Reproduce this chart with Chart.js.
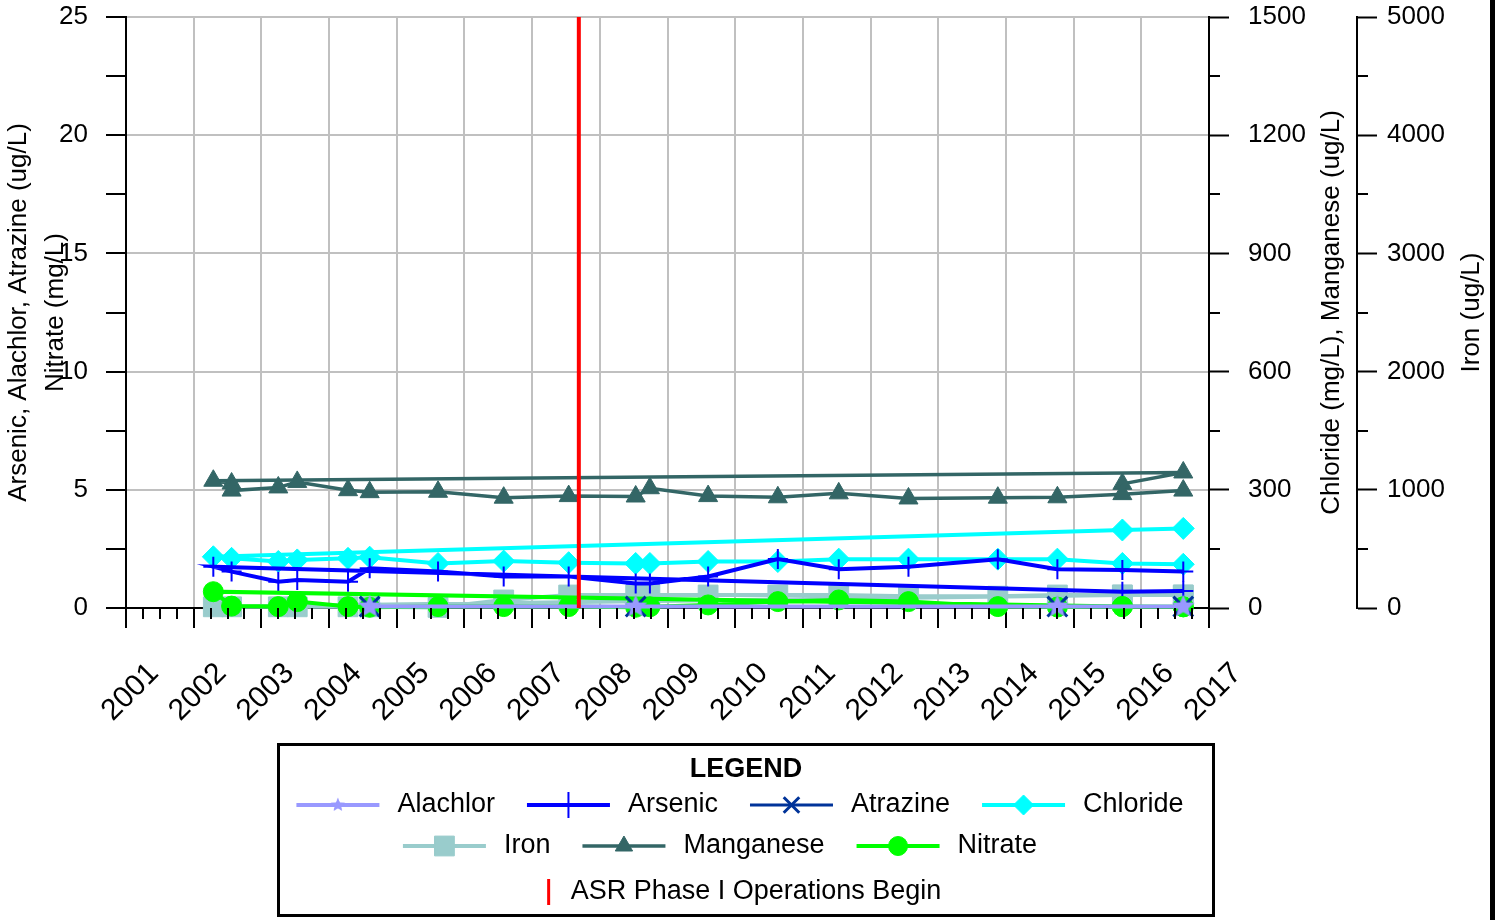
<!DOCTYPE html>
<html>
<head>
<meta charset="utf-8">
<title>Water quality</title>
<script src="https://cdn.jsdelivr.net/npm/chart.js@4.4.1/dist/chart.umd.min.js"></script>
<style>
  html, body { margin: 0; padding: 0; background: #fff; }
  #wrap { position: relative; width: 1499px; height: 920px; }
</style>
</head>
<body>
<div id="wrap"><canvas id="chart" width="1499" height="920"></canvas></div>
<script>
// Sample dates (decimal years)
const sampleDates = [2002.29, 2002.56, 2003.25, 2003.53, 2004.28, 2004.60, 2005.61, 2006.58, 2007.54,
  2008.53, 2008.74, 2009.60, 2010.63, 2011.53, 2012.56, 2013.88, 2014.76, 2015.72, 2016.62];
// resampled rows that sit at the front of each record (they give the long return line)
const extraDates = [2016.62, 2015.72];

const arsenicValues = [1.75, 1.54, 1.11, 1.18, 1.11, 1.68, 1.54, 1.33, 1.33, 1.04, 1.04, 1.33, 2.07, 1.64, 1.75, 2.06, 1.64, 1.61, 1.54];
const arsenicExtra = [0.72, 0.69];

const chlorideValues = [130, 126, 118, 122, 126, 129, 113, 119, 115, 113, 113, 118, 118, 124, 124, 124, 124, 113, 111];
const chlorideExtra = [202, 198];

const ironValues = [10, 10, 10, 10, 10, 10, 5, 68, 110, 110, 110, 110, 110, 110, 100, 100, 110, 110, 110];
const ironExtra = [110, 110];

const nitrateValues = [0.69, 0.08, 0.06, 0.27, 0.06, 0.03, 0.06, 0.06, 0.06, 0.03, 0.05, 0.13, 0.27, 0.34, 0.27, 0.06, 0.04, 0.06, 0.05];
const nitrateExtra = [0.05, 0.06];

const manganeseDates = [2015.72, 2016.62, 2002.29, 2002.56, 2002.56, 2003.25, 2003.53, 2004.28, 2004.60, 2005.61, 2006.58,
  2007.54, 2008.53, 2008.74, 2009.60, 2010.63, 2011.53, 2012.56, 2013.88, 2014.76, 2015.72, 2016.62];
const manganeseValues = [315, 344, 323, 316, 298, 306, 320, 299, 294, 295, 280, 284, 283, 304, 284, 281, 291, 278, 280, 281, 289, 298];

const pesticideDates = [2004.60, 2008.53, 2014.76, 2016.62];
const alachlorValues = [0.06, 0.06, 0.06, 0.06];
const atrazineValues = [0.06, 0.06, 0.06, 0.06];

const asrDates = [2007.69, 2007.69];
const asrRange = [0, 25];

const yearTicks = [2001, 2017];

const FONT = "'Liberation Sans', Arial, Helvetica, sans-serif";
const GRID = '#c0c0c0';
Chart.defaults.font.family = FONT;
Chart.defaults.color = '#000';

function pts(xs, ys) {
    return xs.map((x, i) => ({ x: x, y: ys[i] }));
}

// filled five point star for Alachlor
function makeStar(color, r) {
    const c = document.createElement('canvas');
    c.width = c.height = 2 * r + 2;
    const g = c.getContext('2d');
    g.fillStyle = color;
    g.beginPath();
    for (let i = 0; i < 10; i++) {
        const rad = i % 2 ? r * 0.45 : r;
        const a = -Math.PI / 2 + i * Math.PI / 5;
        g.lineTo(r + 1 + rad * Math.cos(a), r + 1 + rad * Math.sin(a));
    }
    g.closePath();
    g.fill();
    return c;
}

function series(label, data, color, style, radius, axis, order, lineW, ptBorder) {
    return {
        label: label, data: data, yAxisID: axis, order: order,
        borderColor: color, backgroundColor: color, borderWidth: lineW,
        pointStyle: style, pointRadius: radius,
        pointBackgroundColor: color, pointBorderColor: color, pointBorderWidth: ptBorder,
        fill: false, tension: 0, clip: false
    };
}

const datasets = [
    { label: 'ASR Phase I Operations Begin', data: pts(asrDates, asrRange), yAxisID: 'y', order: 0,
      borderColor: '#ff0000', backgroundColor: '#ff0000', borderWidth: 4, pointRadius: 0, fill: false },
    series('Alachlor', pts(pesticideDates, alachlorValues), '#9999ff', makeStar('#9999ff', 12), 12, 'y', 1, 4, 1),
    series('Atrazine', pts(pesticideDates, atrazineValues), '#003399', 'crossRot', 14, 'y', 2, 3, 3),
    series('Nitrate', pts(extraDates.concat(sampleDates), nitrateExtra.concat(nitrateValues)), '#00ff00', 'circle', 10, 'y', 3, 4, 1),
    series('Arsenic', pts(extraDates.concat(sampleDates), arsenicExtra.concat(arsenicValues)), '#0000ff', 'cross', 10, 'y', 4, 4, 2),
    series('Chloride', pts(extraDates.concat(sampleDates), chlorideExtra.concat(chlorideValues)), '#00ffff', 'rectRot', 11, 'y1', 5, 4, 1),
    series('Iron', pts(extraDates.concat(sampleDates), ironExtra.concat(ironValues)), '#99cccc', 'rect', 14, 'y2', 6, 4, 1),
    series('Manganese', pts(manganeseDates, manganeseValues), '#336666', 'triangle', 11, 'y1', 7, 3.5, 1)
];

const legendRows = [['Alachlor', 'Arsenic', 'Atrazine', 'Chloride'], ['Iron', 'Manganese', 'Nitrate'], ['ASR Phase I Operations Begin']];
const legendMarkers = { Alachlor: 8, Arsenic: 13, Atrazine: 11, Chloride: 10, Iron: 14, Manganese: 10, Nitrate: 9.5 };

// minor ticks (shorter, no grid line)
const minorSteps = { x: 0.25, y1: 150, y2: 500 };

function marker(ctx, ds, r, x, y) {
    ctx.fillStyle = ds.pointBackgroundColor;
    ctx.strokeStyle = ds.pointBorderColor;
    ctx.lineWidth = ds.pointBorderWidth;
    const style = ds.pointStyle;
    if (typeof style !== 'string') {
        ctx.drawImage(style, x - r, y - r, 2 * r, 2 * r);
    } else if (Chart.helpers && Chart.helpers.drawPoint) {
        Chart.helpers.drawPoint(ctx, { pointStyle: style, radius: r, rotation: 0, borderWidth: ds.pointBorderWidth }, x, y);
    } else {
        ctx.beginPath();
        ctx.arc(x, y, r, 0, Math.PI * 2);
        ctx.fill();
    }
}

// keep the plot top where the reference has it (17px)
function fixVertical(width) {
    return sc => {
        sc.width = width;
        sc.paddingTop = 17;
        sc.paddingBottom = 0;
    };
}

const decorPlugin = {
    id: 'decor',
    afterDraw(chart) {
        const ctx = chart.ctx;
        const s = chart.scales;
        ctx.save();
        ctx.strokeStyle = '#000';
        ctx.lineWidth = 2;
        ctx.beginPath();
        for (let v = s.x.min + minorSteps.x; v < s.x.max; v += minorSteps.x) {
            if (Math.abs(v - Math.round(v)) < 1e-6) continue;
            const px = Math.round(s.x.getPixelForValue(v));
            ctx.moveTo(px, s.x.top);
            ctx.lineTo(px, s.x.top + 11);
        }
        ['y1', 'y2'].forEach(id => {
            const sc = s[id];
            const st = minorSteps[id];
            for (let v = sc.min + st; v < sc.max; v += 2 * st) {
                const py = Math.round(sc.getPixelForValue(v));
                ctx.moveTo(sc.left, py);
                ctx.lineTo(sc.left + 11, py);
            }
        });
        ctx.stroke();

        // right axis titles read bottom to top
        const midY = (chart.chartArea.top + chart.chartArea.bottom) / 2;
        ctx.fillStyle = '#000';
        ctx.font = '26px ' + FONT;
        ctx.textAlign = 'center';
        ctx.textBaseline = 'middle';
        [[s.y1.right - 25, 'Chloride (mg/L), Manganese (ug/L)'], [s.y2.left + 115, 'Iron (ug/L)']].forEach(t => {
            ctx.save();
            ctx.translate(t[0], midY);
            ctx.rotate(-Math.PI / 2);
            ctx.fillText(t[1], 0, 0);
            ctx.restore();
        });

        // frame edge on the right
        ctx.fillRect(1490, 0, 5, chart.height);

        // legend box
        const box = { left: 278.5, top: 744.5, width: 935, height: 171 };
        ctx.lineWidth = 3;
        ctx.strokeRect(box.left, box.top, box.width, box.height);
        ctx.font = 'bold 27px ' + FONT;
        ctx.fillText('LEGEND', box.left + box.width / 2, 770);

        ctx.font = '27px ' + FONT;
        ctx.textAlign = 'left';
        const rowY = [805, 846, 892];
        const rowCenter = [740, 720, 745];
        legendRows.forEach((row, ri) => {
            const items = row.map(label => {
                const ds = chart.data.datasets.find(d => d.label === label);
                const isLine = !ds.pointRadius;
                const sampleW = isLine ? 0 : 83;
                const gap = isLine ? 22 : 18;
                return { ds, label, sampleW, gap, w: sampleW + gap + ctx.measureText(label).width };
            });
            const itemGap = 32;
            const total = items.reduce((a, it) => a + it.w, 0) + itemGap * (items.length - 1);
            let x = rowCenter[ri] - total / 2;
            const y = rowY[ri];
            items.forEach(it => {
                const ds = it.ds;
                ctx.strokeStyle = ds.borderColor;
                if (it.sampleW) {
                    ctx.lineWidth = ds.borderWidth;
                    ctx.beginPath();
                    ctx.moveTo(x, y);
                    ctx.lineTo(x + it.sampleW, y);
                    ctx.stroke();
                    marker(ctx, ds, legendMarkers[it.label], x + it.sampleW / 2, y);
                } else {
                    ctx.lineWidth = 3;
                    ctx.beginPath();
                    ctx.moveTo(x, y - 13);
                    ctx.lineTo(x, y + 13);
                    ctx.stroke();
                }
                ctx.fillStyle = '#000';
                ctx.fillText(it.label, x + it.sampleW + it.gap, y);
                x += it.w + itemGap;
            });
        });
        ctx.restore();
    }
};

const chart = new Chart(document.getElementById('chart'), {
    type: 'line',
    data: { datasets: datasets },
    options: {
        responsive: false,
        animation: false,
        layout: { padding: 0 },
        plugins: { legend: { display: false }, tooltip: { enabled: false } },
        scales: {
            x: {
                type: 'linear', position: 'bottom', min: yearTicks[0], max: yearTicks[1],
                ticks: { stepSize: 1, autoSkip: false, maxRotation: 45, minRotation: 45, padding: 28,
                    labelOffset: 28, font: { size: 30 }, color: '#000', callback: v => String(v) },
                grid: { color: c => (c.tick && (c.tick.value === yearTicks[0] || c.tick.value === yearTicks[1])) ? 'rgba(0,0,0,0)' : GRID,
                    lineWidth: 2, tickColor: '#000', tickWidth: 2, tickLength: 20 },
                border: { color: '#000', width: 2 },
                afterFit: sc => { sc.height = 312; sc.paddingLeft = 0; sc.paddingRight = 0; }
            },
            y: {
                position: 'left', min: 0, max: 25,
                ticks: { stepSize: 2.5, autoSkip: false, padding: 18, font: { size: 26 }, color: '#000',
                    callback: v => (v % 5 === 0 ? String(v) : '') },
                grid: { color: c => (c.tick && c.tick.value % 5 === 0 && c.tick.value !== 0) ? GRID : 'rgba(0,0,0,0)',
                    lineWidth: 2, tickColor: '#000', tickWidth: 2, tickLength: 20 },
                border: { color: '#000', width: 2 },
                title: { display: true, text: ['Arsenic, Alachlor, Atrazine (ug/L)', 'Nitrate (mg/L)'],
                    font: { size: 26, lineHeight: 1.42 }, padding: 0, color: '#000' },
                afterFit: fixVertical(126)
            },
            y1: {
                position: 'right', min: 0, max: 1500,
                ticks: { stepSize: 300, padding: 19, font: { size: 26 }, color: '#000', callback: v => String(v) },
                grid: { drawOnChartArea: false, tickColor: '#000', tickWidth: 2, tickLength: 20 },
                border: { color: '#000', width: 2 },
                afterFit: fixVertical(148)
            },
            y2: {
                position: 'right', min: 0, max: 5000,
                ticks: { stepSize: 1000, padding: 10, font: { size: 26 }, color: '#000', callback: v => String(v) },
                grid: { drawOnChartArea: false, tickColor: '#000', tickWidth: 2, tickLength: 20 },
                border: { color: '#000', width: 2 },
                afterFit: fixVertical(142)
            }
        }
    },
    plugins: [decorPlugin]
});
</script>
</body>
</html>
